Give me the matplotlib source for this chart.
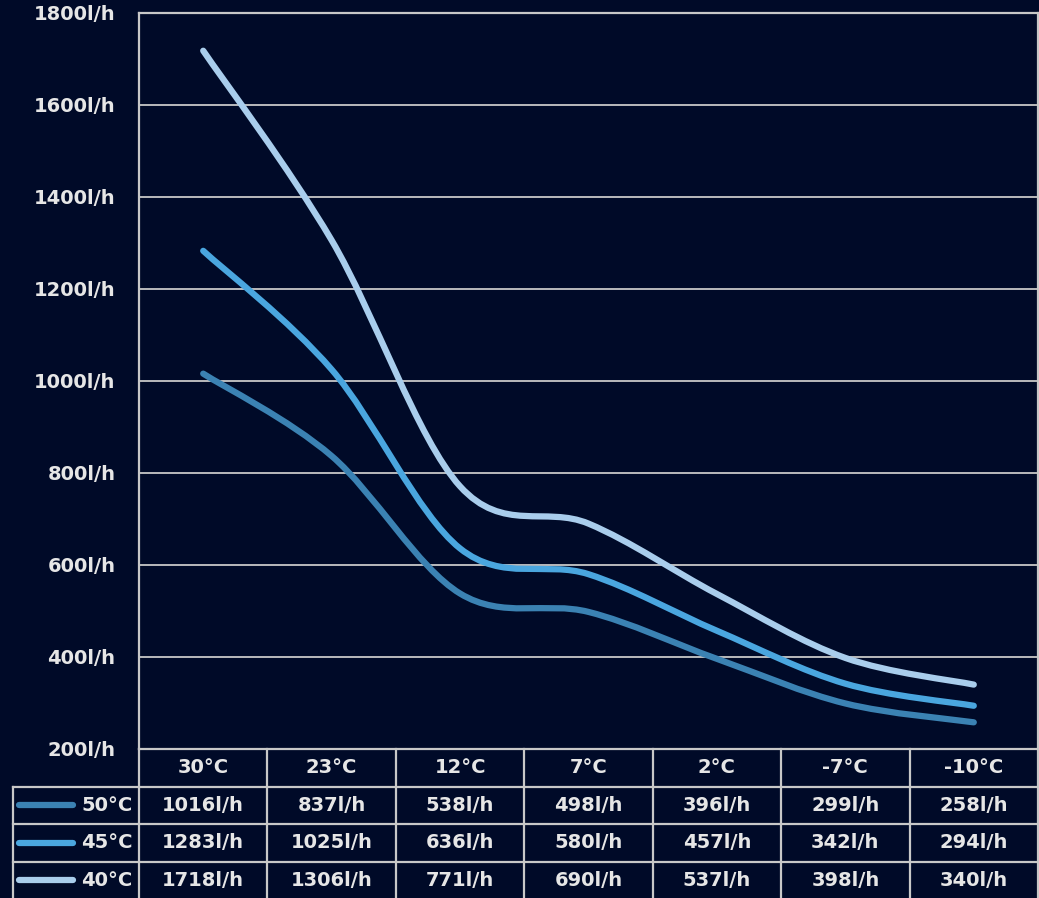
import numpy as np
import matplotlib.pyplot as plt
from matplotlib.path import Path
from matplotlib.patches import PathPatch

plt.rcParams.update({
    "font.family": ["DejaVu Sans"],
    "font.weight": "bold",
    "font.size": 14,
})

# Data
outdoor_temps = ["30°C", "23°C", "12°C", "7°C", "2°C", "-7°C", "-10°C"]
series_names = ["50°C", "45°C", "40°C"]
flow_50 = [1016, 837, 538, 498, 396, 299, 258]
flow_45 = [1283, 1025, 636, 580, 457, 342, 294]
flow_40 = [1718, 1306, 771, 690, 537, 398, 340]
y_ticks = [200, 400, 600, 800, 1000, 1200, 1400, 1600, 1800]

BG = "#000a28"
GRID = "#c8c8c8"
TEXT = "#e6e6e6"
colors = ["#3b82b3", "#4aa6df", "#a9cdec"]


def smooth_path(xs, ys):
    # Excel-like smoothed line: cubic Bezier segments through the points
    pts = np.column_stack([xs, ys]).astype(float)
    n = len(pts)
    verts = [pts[0]]
    codes = [Path.MOVETO]
    for i in range(n - 1):
        p0 = pts[i - 1] if i > 0 else pts[i]
        p1 = pts[i]
        p2 = pts[i + 1]
        p3 = pts[i + 2] if i + 2 < n else pts[i + 1]
        c1 = p1 + (p2 - p0) / 6.0
        c2 = p2 - (p3 - p1) / 6.0
        verts += [c1, c2, p2]
        codes += [Path.CURVE4] * 3
    return Path(verts, codes)


W, H = 1039, 898
fig = plt.figure(figsize=(W / 100, H / 100), dpi=100)
fig.patch.set_facecolor(BG)

left, right = 139 / W, 1038 / W
bottom, top = (H - 749) / H, (H - 13) / H
ax = fig.add_axes([left, bottom, right - left, top - bottom])
ax.set_facecolor(BG)

x = np.arange(len(outdoor_temps))
all_series = [flow_50, flow_45, flow_40]
for vals, c in zip(all_series, colors):
    patch = PathPatch(smooth_path(x, vals), facecolor="none", edgecolor=c,
                      linewidth=4.5, capstyle="round", joinstyle="round", zorder=3)
    ax.add_patch(patch)

ax.set_xlim(-0.5, len(outdoor_temps) - 0.5)
ax.set_ylim(200, 1800)
ax.set_yticks(y_ticks)
ax.set_yticklabels([f"{v}l/h" for v in y_ticks])
ax.set_xticks([])
ax.tick_params(axis="y", length=0, pad=17, colors=TEXT, labelsize=14)
ax.grid(axis="y", color=GRID, linewidth=1.3)
for s in ax.spines.values():
    s.set_color(GRID)
    s.set_linewidth(1.6)

# Data table below the plot
row_h = 37.5
tax = fig.add_axes([left, 0, right - left, 149 / H], sharex=ax)
tax.set_ylim(149 / row_h, 0)
tax.axis("off")

n = len(outdoor_temps)
leg_left = -0.5 - (139 - 13) / ((1038 - 139) / n)
lkw = dict(color=GRID, linewidth=1.6, clip_on=False)

# header row
for j in range(n + 1):
    tax.plot([j - 0.5, j - 0.5], [0, 4], **lkw)
for j, t in enumerate(outdoor_temps):
    tax.text(j, 0.5, t, ha="center", va="center", color=TEXT, fontsize=14)

# body rows
for i in range(1, 4):
    tax.plot([leg_left, n - 0.5], [i, i], **lkw)
tax.plot([leg_left, leg_left], [1, 4], **lkw)
for i, (name, vals, c) in enumerate(zip(series_names, all_series, colors)):
    yc = i + 1.5
    tax.plot([leg_left + 0.05, leg_left + 0.47], [yc, yc], color=c,
             linewidth=4.5, solid_capstyle="round", clip_on=False)
    tax.text(-0.55, yc, name, ha="right", va="center", color=TEXT, fontsize=14)
    for j, v in enumerate(vals):
        tax.text(j, yc, f"{v}l/h", ha="center", va="center", color=TEXT, fontsize=14)

fig.savefig("out.png", dpi=100, facecolor=BG)
